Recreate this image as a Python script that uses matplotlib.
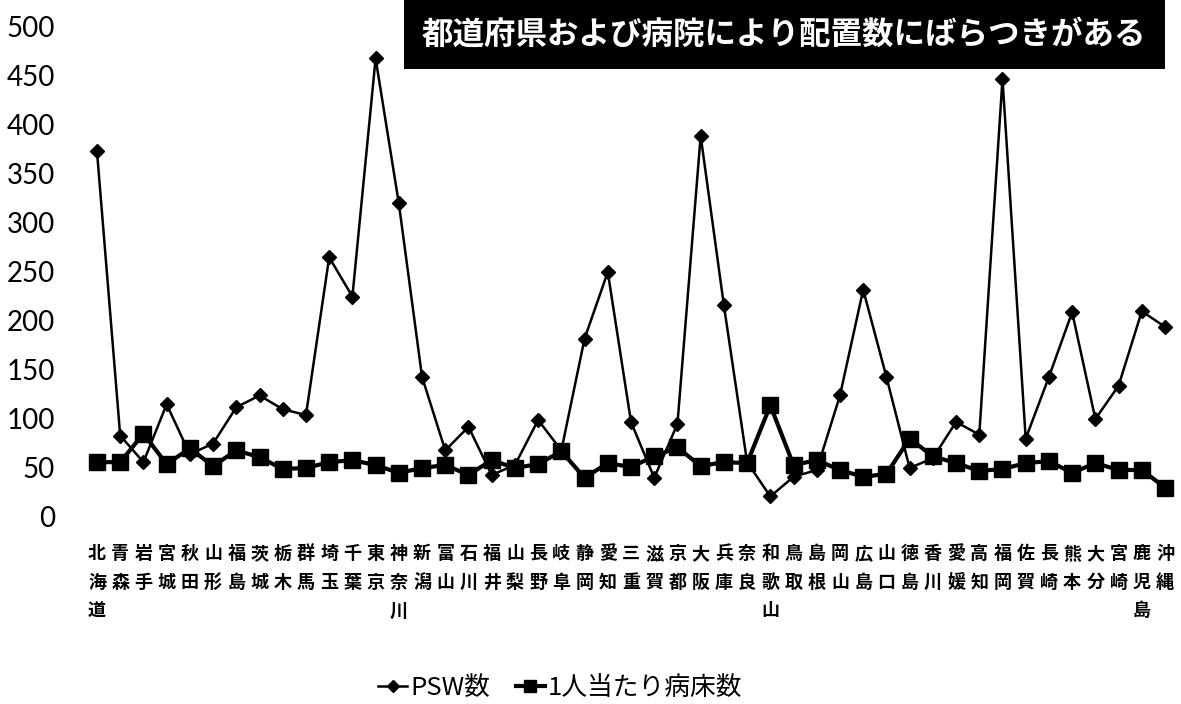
import matplotlib
matplotlib.use("Agg")
import matplotlib.pyplot as plt
from matplotlib.lines import Line2D
from matplotlib.patches import Rectangle

prefectures = ["北海道", "青森", "岩手", "宮城", "秋田", "山形", "福島", "茨城", "栃木", "群馬",
               "埼玉", "千葉", "東京", "神奈川", "新潟", "富山", "石川", "福井", "山梨", "長野",
               "岐阜", "静岡", "愛知", "三重", "滋賀", "京都", "大阪", "兵庫", "奈良", "和歌山",
               "鳥取", "島根", "岡山", "広島", "山口", "徳島", "香川", "愛媛", "高知", "福岡",
               "佐賀", "長崎", "熊本", "大分", "宮崎", "鹿児島", "沖縄"]

psw = [372, 82, 55, 114, 63, 74, 111, 123, 109, 103,
       264, 224, 467, 319, 142, 67, 91, 42, 52, 98,
       67, 181, 249, 96, 39, 94, 388, 215, 55, 20,
       40, 47, 123, 231, 142, 49, 59, 96, 83, 446,
       79, 142, 208, 99, 133, 209, 193]

beds = [55, 55, 84, 53, 69, 51, 67, 60, 48, 49,
        55, 57, 52, 44, 49, 52, 42, 57, 49, 53,
        66, 39, 54, 50, 61, 70, 51, 55, 54, 113,
        52, 57, 47, 40, 43, 79, 61, 54, 46, 48,
        54, 56, 44, 54, 47, 47, 29]

yticks = [0, 50, 100, 150, 200, 250, 300, 350, 400, 450, 500]
title = "都道府県および病院により配置数にばらつきがある"
legend_labels = ["PSW数", "1人当たり病床数"]

cjk = ["Noto Sans CJK JP", "DejaVu Sans"]

W, H = 1181, 704
fig = plt.figure(figsize=(W / 100, H / 100), dpi=100)
ax = fig.add_axes([0.0723, 0.267, 0.924, 0.696])

x = list(range(len(prefectures)))
ax.plot(x, beds, color="black", lw=3.0, marker="s", ms=11, zorder=3)
ax.plot(x, psw, color="black", lw=1.8, marker="D", ms=7, zorder=4)

ax.set_xlim(-0.5, len(prefectures) - 0.5)
ax.set_ylim(0, 500)
ax.set_yticks(yticks)
ax.set_yticklabels([str(v) for v in yticks], family=["Lato"], fontsize=20)
ax.set_xticks(x)
ax.set_xticklabels(["\n".join(p) for p in prefectures], family=cjk,
                   fontsize=13, fontweight="bold", linespacing=1.65,
                   va="top")
ax.tick_params(axis="both", length=0)
ax.tick_params(axis="x", pad=20)
ax.tick_params(axis="y", pad=22)
for s in ax.spines.values():
    s.set_visible(False)

# Title box (black band touching the top edge)
fig.patches.append(Rectangle((404 / W, 1 - 69 / H), (1165 - 404) / W, 69 / H + 0.01,
                             transform=fig.transFigure, fc="black", ec="none", zorder=5))
fig.text(784 / W, 1 - 35 / H, title, family=cjk, fontsize=22.7, fontweight="bold",
         color="white", ha="center", va="center", zorder=6)

handles = [Line2D([], [], color="black", lw=1.8, marker="D", ms=6),
           Line2D([], [], color="black", lw=3.0, marker="s", ms=9)]
fig.legend(handles, legend_labels, loc="center", bbox_to_anchor=(560 / W, 1 - 688 / H),
           ncol=2, frameon=False, prop={"family": cjk, "size": 18.5},
           handlelength=1.15, handletextpad=0.1, columnspacing=1.0,
           borderpad=0, borderaxespad=0)

fig.savefig("out.png", dpi=100, facecolor="white")
